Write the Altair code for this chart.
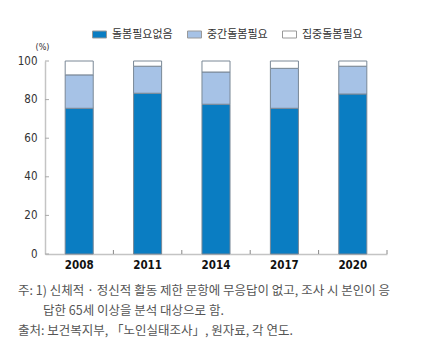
import altair as alt
import pandas as pd

years = ["2008", "2011", "2014", "2017", "2020"]
series = ["돌봄필요없음", "중간돌봄필요", "집중돌봄필요"]
no_care = [75.5, 83.3, 77.6, 75.5, 82.9]
mid_care = [17.3, 14.0, 16.7, 20.7, 14.4]
intense_care = [7.2, 2.7, 5.7, 3.8, 2.7]
y_ticks = [0, 20, 40, 60, 80, 100]
colors = ["#0a7dc2", "#a6c2e6", "#ffffff"]
notes = [
    "주: 1) 신체적 · 정신적 활동 제한 문항에 무응답이 없고, 조사 시 본인이 응",
    "답한 65세 이상을 분석 대상으로 함.",
    "출처: 보건복지부, 「노인실태조사」, 원자료, 각 연도.",
]

rows = []
for i, y in enumerate(years):
    for j, (s, vals) in enumerate(zip(series, [no_care, mid_care, intense_care])):
        rows.append({"year": y, "series": s, "value": vals[i], "ord": j})
df = pd.DataFrame(rows)

KFONT = "Noto Sans CJK KR"
NFONT = "DejaVu Sans Condensed"
H = 193
xscale = alt.Scale(domain=years, paddingInner=0.59, paddingOuter=0.295)
yscale = alt.Scale(domain=[0, 100], nice=False)

x_axis = alt.Axis(orient="bottom", labelAngle=0, ticks=False, domainColor="#c4c4c4",
                  domainWidth=1.5, labelFont=NFONT, labelFontSize=11.5, labelColor="#111",
                  labelPadding=5, labelFontWeight=600)
y_axis = alt.Axis(orient="left", values=y_ticks, ticks=False, grid=False,
                  domainColor="#c4c4c4", domainWidth=1.5,
                  labelFont=NFONT, labelFontSize=11.5, labelColor="#333",
                  labelPadding=8, title="(%)", titleAngle=0,
                  titleFont=NFONT, titleFontSize=9, titleFontWeight="normal",
                  titleColor="#333", titleX=-3, titleY=-10, titleAlign="center")

bars = alt.Chart(df).mark_bar(stroke="#7a8896", strokeWidth=1).encode(
    x=alt.X("year:N", sort=years, title=None, scale=xscale, axis=x_axis),
    y=alt.Y("value:Q", stack="zero", scale=yscale, axis=y_axis),
    color=alt.Color("series:N", sort=series,
                    scale=alt.Scale(domain=series, range=colors),
                    legend=alt.Legend(title=None, orient="none", direction="horizontal",
                                      legendX=47, legendY=-34,
                                      symbolType="M-1,-0.5H1V0.5H-1Z", symbolSize=196,
                                      symbolStrokeColor="#999", symbolStrokeWidth=1,
                                      labelFont=KFONT, labelFontSize=11, labelColor="#333",
                                      columnPadding=12, labelOffset=5)),
    order=alt.Order("ord:Q"),
)

xt = alt.Chart(pd.DataFrame({"year": years})).mark_rule(
    color="#888", strokeWidth=1, xOffset=34.2
).encode(
    x=alt.X("year:N", sort=years, title=None, scale=xscale, axis=x_axis),
    y=alt.value(H - 4), y2=alt.value(H),
)
yt = alt.Chart(pd.DataFrame({"value": y_ticks})).mark_rule(color="#aaa", strokeWidth=1).encode(
    y=alt.Y("value:Q", scale=yscale, axis=y_axis),
    x=alt.value(0), x2=alt.value(4),
)

note_layers = []
pos = [(-27, 37), (-2, 57), (-27, 77)]
for k, t in enumerate(notes):
    note_layers.append(
        alt.Chart(pd.DataFrame({"t": [t]})).mark_text(
            align="left", baseline="middle", font=KFONT, fontSize=12.5, color="#555"
        ).encode(text="t:N", x=alt.value(pos[k][0]), y=alt.value(H + pos[k][1]))
    )

chart = alt.layer(bars, xt, yt, *note_layers).properties(
    width=342, height=H,
    autosize=alt.AutoSizeParams(type="none"),
    padding={"left": 37, "top": 53, "right": 27, "bottom": 93},
).configure_view(stroke=None)

chart.save("out.html", embed_options={"renderer": "svg", "actions": False})
